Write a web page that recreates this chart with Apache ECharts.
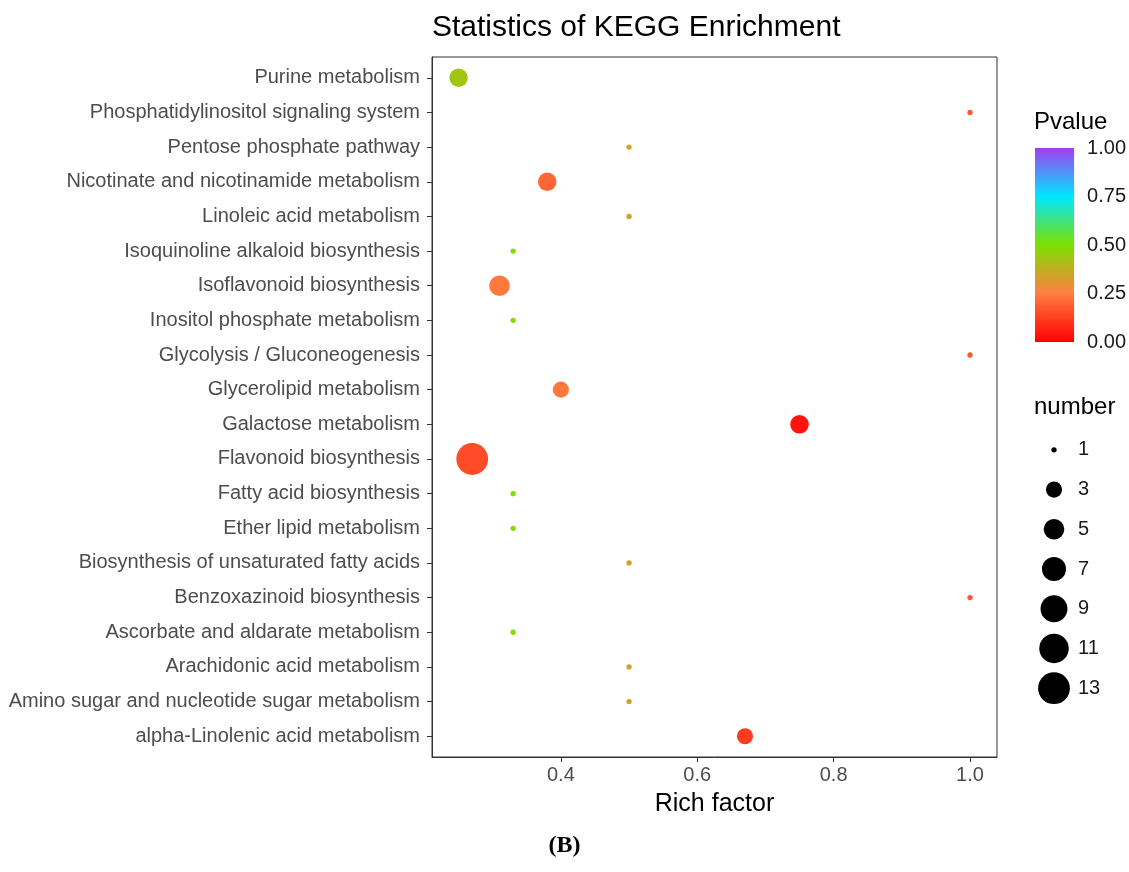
<!DOCTYPE html>
<html>
<head>
<meta charset="utf-8">
<script src="https://cdn.jsdelivr.net/npm/echarts@6/dist/echarts.min.js"></script>
<style>
html, body { margin: 0; padding: 0; background: #fff; }
#main { width: 1129px; height: 872px; }
</style>
</head>
<body>
<div id="main"></div>
<script>
var categories = [
    'Purine metabolism',
    'Phosphatidylinositol signaling system',
    'Pentose phosphate pathway',
    'Nicotinate and nicotinamide metabolism',
    'Linoleic acid metabolism',
    'Isoquinoline alkaloid biosynthesis',
    'Isoflavonoid biosynthesis',
    'Inositol phosphate metabolism',
    'Glycolysis / Gluconeogenesis',
    'Glycerolipid metabolism',
    'Galactose metabolism',
    'Flavonoid biosynthesis',
    'Fatty acid biosynthesis',
    'Ether lipid metabolism',
    'Biosynthesis of unsaturated fatty acids',
    'Benzoxazinoid biosynthesis',
    'Ascorbate and aldarate metabolism',
    'Arachidonic acid metabolism',
    'Amino sugar and nucleotide sugar metabolism',
    'alpha-Linolenic acid metabolism'
];
var richFactor = [0.25, 1.0, 0.5, 0.38, 0.5, 0.33, 0.31, 0.33, 1.0, 0.4, 0.75, 0.27, 0.33, 0.33, 0.5, 1.0, 0.33, 0.5, 0.5, 0.67];
var pvalue = [0.43, 0.17, 0.34, 0.2, 0.34, 0.5, 0.24, 0.5, 0.17, 0.24, 0.04, 0.15, 0.5, 0.5, 0.34, 0.17, 0.5, 0.34, 0.34, 0.12];
var geneNumber = [4, 1, 1, 4, 1, 1, 5, 1, 1, 3, 4, 13, 1, 1, 1, 1, 1, 1, 1, 3];

var xTicks = [0.4, 0.6, 0.8, 1.0];
var pTicks = [0, 0.25, 0.5, 0.75, 1];
var sizeLegend = [1, 3, 5, 7, 9, 11, 13];

var pColors = ['#FF0000', '#FF7E42', '#7DE000', '#00E6FF', '#A23EF0'];

// area scale like ggplot's scale_size (range 1..6)
function dotSize(n) {
    return 2 * 2.65 * (1 + 5 * Math.sqrt((n - 1) / 12));
}

var points = categories.map(function (c, i) {
    return [richFactor[i], i, pvalue[i], geneNumber[i]];
});

var labelFont = 'Liberation Sans';

var myChart = echarts.init(document.getElementById('main'));
myChart.setOption({
    backgroundColor: '#fff',
    animation: false,
    textStyle: { fontFamily: labelFont },
    title: [
        { text: 'Statistics of KEGG Enrichment', left: 427, top: 8,
          textStyle: { fontSize: 30, fontWeight: 'normal', color: '#000', fontFamily: labelFont } },
        { text: 'Pvalue', left: 1029, top: 105,
          textStyle: { fontSize: 24, fontWeight: 'normal', color: '#000', fontFamily: labelFont } },
        { text: 'number', left: 1029, top: 390,
          textStyle: { fontSize: 24, fontWeight: 'normal', color: '#000', fontFamily: labelFont } },
        { text: '(B)', left: 'center', top: 829,
          textStyle: { fontSize: 24, fontWeight: 'bold', color: '#000', fontFamily: 'Liberation Serif' } }
    ],
    visualMap: {
        type: 'continuous',
        show: false,
        seriesIndex: 0,
        dimension: 2,
        min: 0,
        max: 1,
        inRange: { color: pColors }
    },
    grid: [
        { left: 432, right: 132, top: 57, bottom: 115, show: true, borderColor: '#333', borderWidth: 1 },
        { left: 1035, top: 148, width: 40, height: 194 },
        { left: 1034, top: 430, width: 40, height: 278 }
    ],
    xAxis: [
        {
            gridIndex: 0, type: 'value', min: 0.211, max: 1.0396,
            name: 'Rich factor', nameLocation: 'middle', nameGap: 35,
            nameTextStyle: { fontSize: 25, color: '#000', fontFamily: labelFont },
            axisLine: { show: true, onZero: false, lineStyle: { color: '#333', width: 1 } },
            axisTick: { show: true, length: 5, customValues: xTicks, lineStyle: { color: '#333' } },
            axisLabel: { customValues: xTicks, margin: 8, fontSize: 20, color: '#4D4D4D',
                formatter: function (v) { return v.toFixed(1); } },
            splitLine: { show: false }
        },
        { gridIndex: 1, type: 'category', data: ['p'], show: false },
        { gridIndex: 2, type: 'category', data: ['n'], show: false }
    ],
    yAxis: [
        {
            gridIndex: 0, type: 'value', inverse: true, min: -0.6, max: 19.6,
            axisLine: { show: true, onZero: false, lineStyle: { color: '#333', width: 1 } },
            axisTick: { show: true, length: 5, customValues: categories.map(function (c, i) { return i; }),
                lineStyle: { color: '#333' } },
            axisLabel: { customValues: categories.map(function (c, i) { return i; }), margin: 12,
                fontSize: 20, color: '#4D4D4D',
                formatter: function (v) { return categories[Math.round(v)]; } },
            splitLine: { show: false }
        },
        {
            gridIndex: 1, type: 'value', min: 0, max: 1, position: 'right',
            axisLine: { show: false },
            axisTick: { show: true, inside: true, length: 7, customValues: pTicks,
                lineStyle: { color: '#fff', width: 1 } },
            axisLabel: { customValues: pTicks, margin: 13, fontSize: 20, color: '#1A1A1A',
                formatter: function (v) { return v.toFixed(2); } },
            splitLine: { show: false }
        },
        {
            gridIndex: 1, type: 'value', min: 0, max: 1, position: 'left',
            axisLine: { show: false },
            axisTick: { show: true, inside: true, length: 7, customValues: pTicks,
                lineStyle: { color: '#fff', width: 1 } },
            axisLabel: { show: false },
            splitLine: { show: false }
        },
        {
            gridIndex: 2, type: 'category', inverse: true, position: 'right',
            data: sizeLegend.map(String),
            axisLine: { show: false },
            axisTick: { show: false },
            axisLabel: { margin: 4, fontSize: 20, color: '#1A1A1A' }
        }
    ],
    series: [
        {
            type: 'scatter',
            xAxisIndex: 0,
            yAxisIndex: 0,
            data: points,
            symbolSize: function (v) { return dotSize(v[3]); },
            itemStyle: { opacity: 1 }
        },
        {
            type: 'bar',
            xAxisIndex: 1,
            yAxisIndex: 1,
            data: [1],
            barWidth: '100%',
            z: 1,
            itemStyle: {
                color: new echarts.graphic.LinearGradient(0, 1, 0, 0, pColors.map(function (c, i) {
                    return { offset: i / (pColors.length - 1), color: c };
                }))
            }
        },
        {
            type: 'scatter',
            xAxisIndex: 2,
            yAxisIndex: 3,
            data: sizeLegend.map(function (n, i) { return ['n', String(n), n]; }),
            symbolSize: function (v) { return dotSize(v[2]); },
            itemStyle: { color: '#000', opacity: 1 }
        }
    ]
});
</script>
</body>
</html>
